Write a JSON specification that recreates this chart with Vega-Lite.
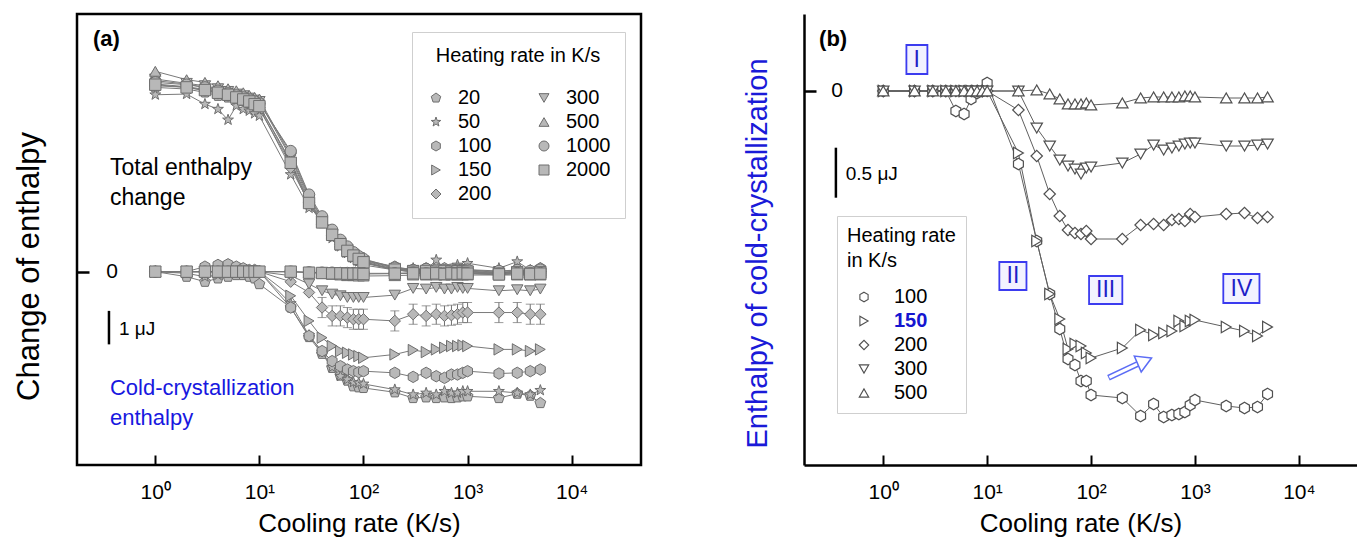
{
"$schema":"https://vega.github.io/schema/vega-lite/v6.json",
"background":"white",
"padding":{"left":12,"top":12,"right":0,"bottom":0},
"spacing":100,
"config":{"font":"Liberation Sans","view":{"stroke":"black","strokeWidth":2.5},"axis":{"grid":false,"labelColor":"black","titleColor":"black","titleFontWeight":"normal","tickColor":"black","labelFont":"Liberation Sans","titleFont":"Liberation Sans"},"legend":{"titleFontWeight":"normal","labelFont":"Liberation Sans","titleFont":"Liberation Sans"}},
"resolve":{"scale":{"shape":"independent"},"legend":{"shape":"independent"}},
"datasets":{
"at":[
{"s":"20","c":1,"v":5.5},{"s":"20","c":2,"v":5.45},{"s":"20","c":3,"v":5.35},{"s":"20","c":4,"v":5.25},{"s":"20","c":5,"v":5.2},{"s":"20","c":6,"v":5.15},{"s":"20","c":7,"v":5.1},{"s":"20","c":8,"v":5.0},{"s":"20","c":9,"v":4.95},{"s":"20","c":10,"v":4.85},{"s":"20","c":20,"v":3.2},{"s":"20","c":30,"v":2.0},{"s":"20","c":40,"v":1.45},{"s":"20","c":50,"v":1.15},{"s":"20","c":60,"v":0.85},{"s":"20","c":70,"v":0.65},{"s":"20","c":80,"v":0.5},{"s":"20","c":90,"v":0.4},{"s":"20","c":100,"v":0.3},{"s":"20","c":200,"v":0.05},{"s":"20","c":300,"v":0.0},{"s":"20","c":400,"v":-0.05},{"s":"20","c":500,"v":0.0},{"s":"20","c":600,"v":-0.05},{"s":"20","c":700,"v":0.0},{"s":"20","c":800,"v":-0.03},{"s":"20","c":900,"v":0.0},{"s":"20","c":1000,"v":-0.05},{"s":"20","c":2000,"v":-0.1},{"s":"20","c":3000,"v":-0.05},{"s":"20","c":4000,"v":-0.1},{"s":"20","c":5000,"v":-0.05},
{"s":"50","c":1,"v":5.28},{"s":"50","c":2,"v":5.3},{"s":"50","c":3,"v":5.0},{"s":"50","c":4,"v":4.85},{"s":"50","c":5,"v":4.53},{"s":"50","c":6,"v":4.95},{"s":"50","c":7,"v":4.85},{"s":"50","c":8,"v":4.8},{"s":"50","c":9,"v":4.72},{"s":"50","c":10,"v":4.65},{"s":"50","c":20,"v":2.9},{"s":"50","c":30,"v":1.9},{"s":"50","c":40,"v":1.6},{"s":"50","c":50,"v":1.0},{"s":"50","c":60,"v":0.75},{"s":"50","c":70,"v":0.55},{"s":"50","c":80,"v":0.4},{"s":"50","c":90,"v":0.3},{"s":"50","c":100,"v":0.2},{"s":"50","c":200,"v":0.05},{"s":"50","c":300,"v":0.1},{"s":"50","c":400,"v":0.05},{"s":"50","c":500,"v":0.35},{"s":"50","c":600,"v":0.1},{"s":"50","c":700,"v":0.05},{"s":"50","c":800,"v":0.2},{"s":"50","c":900,"v":0.05},{"s":"50","c":1000,"v":0.25},{"s":"50","c":2000,"v":0.1},{"s":"50","c":3000,"v":0.3},{"s":"50","c":4000,"v":0.05},{"s":"50","c":5000,"v":0.1},
{"s":"100","c":1,"v":5.7},{"s":"100","c":2,"v":5.6},{"s":"100","c":3,"v":5.5},{"s":"100","c":4,"v":5.42},{"s":"100","c":5,"v":5.35},{"s":"100","c":6,"v":5.28},{"s":"100","c":7,"v":5.22},{"s":"100","c":8,"v":5.16},{"s":"100","c":9,"v":5.1},{"s":"100","c":10,"v":5.05},{"s":"100","c":20,"v":3.55},{"s":"100","c":30,"v":2.25},{"s":"100","c":40,"v":1.6},{"s":"100","c":50,"v":1.2},{"s":"100","c":60,"v":0.92},{"s":"100","c":70,"v":0.72},{"s":"100","c":80,"v":0.56},{"s":"100","c":90,"v":0.45},{"s":"100","c":100,"v":0.35},{"s":"100","c":200,"v":0.15},{"s":"100","c":300,"v":0.05},{"s":"100","c":400,"v":0.1},{"s":"100","c":500,"v":0.05},{"s":"100","c":600,"v":0.1},{"s":"100","c":700,"v":0.05},{"s":"100","c":800,"v":0.08},{"s":"100","c":900,"v":0.05},{"s":"100","c":1000,"v":0.05},{"s":"100","c":2000,"v":0.0},{"s":"100","c":3000,"v":0.05},{"s":"100","c":4000,"v":0.0},{"s":"100","c":5000,"v":0.1},
{"s":"150","c":1,"v":5.6},{"s":"150","c":2,"v":5.52},{"s":"150","c":3,"v":5.44},{"s":"150","c":4,"v":5.36},{"s":"150","c":5,"v":5.3},{"s":"150","c":6,"v":5.22},{"s":"150","c":7,"v":5.16},{"s":"150","c":8,"v":5.1},{"s":"150","c":9,"v":5.02},{"s":"150","c":10,"v":4.95},{"s":"150","c":20,"v":3.3},{"s":"150","c":30,"v":2.1},{"s":"150","c":40,"v":1.5},{"s":"150","c":50,"v":1.1},{"s":"150","c":60,"v":0.8},{"s":"150","c":70,"v":0.6},{"s":"150","c":80,"v":0.46},{"s":"150","c":90,"v":0.36},{"s":"150","c":100,"v":0.26},{"s":"150","c":200,"v":0.05},{"s":"150","c":300,"v":0.0},{"s":"150","c":400,"v":-0.03},{"s":"150","c":500,"v":0.0},{"s":"150","c":600,"v":-0.05},{"s":"150","c":700,"v":-0.02},{"s":"150","c":800,"v":0.0},{"s":"150","c":900,"v":-0.04},{"s":"150","c":1000,"v":-0.02},{"s":"150","c":2000,"v":-0.08},{"s":"150","c":3000,"v":-0.05},{"s":"150","c":4000,"v":-0.08},{"s":"150","c":5000,"v":-0.05},
{"s":"200","c":1,"v":5.55},{"s":"200","c":2,"v":5.5},{"s":"200","c":3,"v":5.4},{"s":"200","c":4,"v":5.32},{"s":"200","c":5,"v":5.25},{"s":"200","c":6,"v":5.18},{"s":"200","c":7,"v":5.12},{"s":"200","c":8,"v":5.05},{"s":"200","c":9,"v":4.98},{"s":"200","c":10,"v":4.9},{"s":"200","c":20,"v":3.1},{"s":"200","c":30,"v":2.05},{"s":"200","c":40,"v":1.48},{"s":"200","c":50,"v":1.08},{"s":"200","c":60,"v":0.82},{"s":"200","c":70,"v":0.62},{"s":"200","c":80,"v":0.48},{"s":"200","c":90,"v":0.38},{"s":"200","c":100,"v":0.28},{"s":"200","c":200,"v":0.08},{"s":"200","c":300,"v":0.02},{"s":"200","c":400,"v":0.0},{"s":"200","c":500,"v":0.02},{"s":"200","c":600,"v":0.0},{"s":"200","c":700,"v":0.03},{"s":"200","c":800,"v":0.0},{"s":"200","c":900,"v":0.02},{"s":"200","c":1000,"v":0.0},{"s":"200","c":2000,"v":-0.05},{"s":"200","c":3000,"v":0.0},{"s":"200","c":4000,"v":-0.05},{"s":"200","c":5000,"v":0.0},
{"s":"300","c":1,"v":5.75},{"s":"300","c":2,"v":5.62},{"s":"300","c":3,"v":5.55},{"s":"300","c":4,"v":5.46},{"s":"300","c":5,"v":5.38},{"s":"300","c":6,"v":5.3},{"s":"300","c":7,"v":5.25},{"s":"300","c":8,"v":5.18},{"s":"300","c":9,"v":5.12},{"s":"300","c":10,"v":5.08},{"s":"300","c":20,"v":3.4},{"s":"300","c":30,"v":2.15},{"s":"300","c":40,"v":1.52},{"s":"300","c":50,"v":1.12},{"s":"300","c":60,"v":0.86},{"s":"300","c":70,"v":0.66},{"s":"300","c":80,"v":0.52},{"s":"300","c":90,"v":0.42},{"s":"300","c":100,"v":0.32},{"s":"300","c":200,"v":0.1},{"s":"300","c":300,"v":0.04},{"s":"300","c":400,"v":0.02},{"s":"300","c":500,"v":0.04},{"s":"300","c":600,"v":0.0},{"s":"300","c":700,"v":0.02},{"s":"300","c":800,"v":0.03},{"s":"300","c":900,"v":0.0},{"s":"300","c":1000,"v":0.02},{"s":"300","c":2000,"v":-0.04},{"s":"300","c":3000,"v":0.0},{"s":"300","c":4000,"v":-0.04},{"s":"300","c":5000,"v":0.02},
{"s":"500","c":1,"v":5.98},{"s":"500","c":2,"v":5.73},{"s":"500","c":3,"v":5.65},{"s":"500","c":4,"v":5.55},{"s":"500","c":5,"v":5.46},{"s":"500","c":6,"v":5.4},{"s":"500","c":7,"v":5.34},{"s":"500","c":8,"v":5.26},{"s":"500","c":9,"v":5.2},{"s":"500","c":10,"v":5.15},{"s":"500","c":20,"v":3.45},{"s":"500","c":30,"v":2.22},{"s":"500","c":40,"v":1.56},{"s":"500","c":50,"v":1.15},{"s":"500","c":60,"v":0.88},{"s":"500","c":70,"v":0.68},{"s":"500","c":80,"v":0.54},{"s":"500","c":90,"v":0.44},{"s":"500","c":100,"v":0.34},{"s":"500","c":200,"v":0.12},{"s":"500","c":300,"v":0.05},{"s":"500","c":400,"v":0.04},{"s":"500","c":500,"v":0.05},{"s":"500","c":600,"v":0.02},{"s":"500","c":700,"v":0.04},{"s":"500","c":800,"v":0.05},{"s":"500","c":900,"v":0.02},{"s":"500","c":1000,"v":0.04},{"s":"500","c":2000,"v":-0.02},{"s":"500","c":3000,"v":0.02},{"s":"500","c":4000,"v":-0.02},{"s":"500","c":5000,"v":0.03},
{"s":"1000","c":1,"v":5.65},{"s":"1000","c":2,"v":5.58},{"s":"1000","c":3,"v":5.5},{"s":"1000","c":4,"v":5.4},{"s":"1000","c":5,"v":5.32},{"s":"1000","c":6,"v":5.26},{"s":"1000","c":7,"v":5.2},{"s":"1000","c":8,"v":5.14},{"s":"1000","c":9,"v":5.08},{"s":"1000","c":10,"v":5.02},{"s":"1000","c":20,"v":3.6},{"s":"1000","c":30,"v":2.3},{"s":"1000","c":40,"v":1.65},{"s":"1000","c":50,"v":1.25},{"s":"1000","c":60,"v":0.95},{"s":"1000","c":70,"v":0.75},{"s":"1000","c":80,"v":0.58},{"s":"1000","c":90,"v":0.46},{"s":"1000","c":100,"v":0.38},{"s":"1000","c":200,"v":0.12},{"s":"1000","c":300,"v":0.05},{"s":"1000","c":400,"v":0.08},{"s":"1000","c":500,"v":0.06},{"s":"1000","c":600,"v":0.04},{"s":"1000","c":700,"v":0.06},{"s":"1000","c":800,"v":0.04},{"s":"1000","c":900,"v":0.05},{"s":"1000","c":1000,"v":0.06},{"s":"1000","c":2000,"v":0.02},{"s":"1000","c":3000,"v":0.05},{"s":"1000","c":4000,"v":0.02},{"s":"1000","c":5000,"v":0.06},
{"s":"2000","c":1,"v":5.58},{"s":"2000","c":2,"v":5.5},{"s":"2000","c":3,"v":5.42},{"s":"2000","c":4,"v":5.34},{"s":"2000","c":5,"v":5.28},{"s":"2000","c":6,"v":5.2},{"s":"2000","c":7,"v":5.14},{"s":"2000","c":8,"v":5.08},{"s":"2000","c":9,"v":5.0},{"s":"2000","c":10,"v":4.94},{"s":"2000","c":20,"v":3.25},{"s":"2000","c":30,"v":2.05},{"s":"2000","c":40,"v":1.47},{"s":"2000","c":50,"v":1.1},{"s":"2000","c":60,"v":0.82},{"s":"2000","c":70,"v":0.62},{"s":"2000","c":80,"v":0.48},{"s":"2000","c":90,"v":0.38},{"s":"2000","c":100,"v":0.28},{"s":"2000","c":200,"v":0.06},{"s":"2000","c":300,"v":0.0},{"s":"2000","c":400,"v":0.02},{"s":"2000","c":500,"v":0.0},{"s":"2000","c":600,"v":0.02},{"s":"2000","c":700,"v":0.0},{"s":"2000","c":800,"v":0.01},{"s":"2000","c":900,"v":0.0},{"s":"2000","c":1000,"v":0.0},{"s":"2000","c":2000,"v":-0.06},{"s":"2000","c":3000,"v":-0.02},{"s":"2000","c":4000,"v":-0.06},{"s":"2000","c":5000,"v":-0.02}
],
"ac":[
{"s":"20","c":1,"v":0.0},{"s":"20","c":2,"v":-0.15},{"s":"20","c":3,"v":-0.3},{"s":"20","c":4,"v":-0.2},{"s":"20","c":5,"v":-0.15},{"s":"20","c":6,"v":-0.1},{"s":"20","c":7,"v":-0.1},{"s":"20","c":8,"v":-0.15},{"s":"20","c":9,"v":-0.2},{"s":"20","c":10,"v":-0.37},{"s":"20","c":20,"v":-1.07},{"s":"20","c":30,"v":-1.95},{"s":"20","c":40,"v":-2.45},{"s":"20","c":50,"v":-2.87},{"s":"20","c":60,"v":-3.1},{"s":"20","c":70,"v":-3.25},{"s":"20","c":80,"v":-3.42},{"s":"20","c":90,"v":-3.45},{"s":"20","c":100,"v":-3.47},{"s":"20","c":200,"v":-3.6},{"s":"20","c":300,"v":-3.77},{"s":"20","c":400,"v":-3.75},{"s":"20","c":500,"v":-3.77},{"s":"20","c":600,"v":-3.75},{"s":"20","c":700,"v":-3.77},{"s":"20","c":800,"v":-3.75},{"s":"20","c":900,"v":-3.72},{"s":"20","c":1000,"v":-3.72},{"s":"20","c":2000,"v":-3.77},{"s":"20","c":3000,"v":-3.64},{"s":"20","c":4000,"v":-3.7},{"s":"20","c":5000,"v":-3.92},
{"s":"50","c":1,"v":0.0},{"s":"50","c":2,"v":-0.05},{"s":"50","c":3,"v":-0.15},{"s":"50","c":4,"v":-0.1},{"s":"50","c":5,"v":-0.05},{"s":"50","c":6,"v":0.0},{"s":"50","c":7,"v":0.0},{"s":"50","c":8,"v":0.0},{"s":"50","c":9,"v":0.0},{"s":"50","c":10,"v":0.0},{"s":"50","c":20,"v":-0.95},{"s":"50","c":30,"v":-1.9},{"s":"50","c":40,"v":-2.4},{"s":"50","c":50,"v":-2.85},{"s":"50","c":60,"v":-3.12},{"s":"50","c":70,"v":-3.22},{"s":"50","c":80,"v":-3.3},{"s":"50","c":90,"v":-3.32},{"s":"50","c":100,"v":-3.35},{"s":"50","c":200,"v":-3.52},{"s":"50","c":300,"v":-3.67},{"s":"50","c":400,"v":-3.62},{"s":"50","c":500,"v":-3.67},{"s":"50","c":600,"v":-3.57},{"s":"50","c":700,"v":-3.62},{"s":"50","c":800,"v":-3.62},{"s":"50","c":900,"v":-3.57},{"s":"50","c":1000,"v":-3.57},{"s":"50","c":2000,"v":-3.57},{"s":"50","c":3000,"v":-3.62},{"s":"50","c":4000,"v":-3.67},{"s":"50","c":5000,"v":-3.54},
{"s":"100","c":1,"v":0.0},{"s":"100","c":2,"v":0.0},{"s":"100","c":3,"v":0.15},{"s":"100","c":4,"v":0.2},{"s":"100","c":5,"v":0.22},{"s":"100","c":6,"v":0.15},{"s":"100","c":7,"v":0.1},{"s":"100","c":8,"v":0.05},{"s":"100","c":9,"v":0.05},{"s":"100","c":10,"v":0.0},{"s":"100","c":20,"v":-1.07},{"s":"100","c":30,"v":-1.92},{"s":"100","c":40,"v":-2.37},{"s":"100","c":50,"v":-2.67},{"s":"100","c":60,"v":-2.82},{"s":"100","c":70,"v":-2.92},{"s":"100","c":80,"v":-2.97},{"s":"100","c":90,"v":-3.0},{"s":"100","c":100,"v":-2.97},{"s":"100","c":200,"v":-3.02},{"s":"100","c":300,"v":-3.14},{"s":"100","c":400,"v":-3.02},{"s":"100","c":500,"v":-3.12},{"s":"100","c":600,"v":-3.17},{"s":"100","c":700,"v":-3.07},{"s":"100","c":800,"v":-3.07},{"s":"100","c":900,"v":-3.02},{"s":"100","c":1000,"v":-2.97},{"s":"100","c":2000,"v":-3.04},{"s":"100","c":3000,"v":-3.02},{"s":"100","c":4000,"v":-2.97},{"s":"100","c":5000,"v":-2.92},
{"s":"150","c":1,"v":0},{"s":"150","c":2,"v":0},{"s":"150","c":3,"v":0},{"s":"150","c":4,"v":0},{"s":"150","c":5,"v":0},{"s":"150","c":6,"v":0},{"s":"150","c":7,"v":0},{"s":"150","c":8,"v":0},{"s":"150","c":9,"v":0},{"s":"150","c":10,"v":0},{"s":"150","c":20,"v":-0.72},{"s":"150","c":30,"v":-1.47},{"s":"150","c":40,"v":-1.97},{"s":"150","c":50,"v":-2.22},{"s":"150","c":60,"v":-2.37},{"s":"150","c":70,"v":-2.42},{"s":"150","c":80,"v":-2.47},{"s":"150","c":90,"v":-2.52},{"s":"150","c":100,"v":-2.57},{"s":"150","c":200,"v":-2.47},{"s":"150","c":300,"v":-2.34},{"s":"150","c":400,"v":-2.4},{"s":"150","c":500,"v":-2.32},{"s":"150","c":600,"v":-2.27},{"s":"150","c":700,"v":-2.22},{"s":"150","c":800,"v":-2.22},{"s":"150","c":900,"v":-2.2},{"s":"150","c":1000,"v":-2.22},{"s":"150","c":2000,"v":-2.32},{"s":"150","c":3000,"v":-2.32},{"s":"150","c":4000,"v":-2.37},{"s":"150","c":5000,"v":-2.32},
{"s":"200","c":1,"v":0},{"s":"200","c":2,"v":0},{"s":"200","c":3,"v":0},{"s":"200","c":4,"v":0},{"s":"200","c":5,"v":0},{"s":"200","c":6,"v":0},{"s":"200","c":7,"v":0},{"s":"200","c":8,"v":0},{"s":"200","c":9,"v":0},{"s":"200","c":10,"v":0},{"s":"200","c":20,"v":-0.3},{"s":"200","c":30,"v":-0.62},{"s":"200","c":40,"v":-1.07,"e":0.3},{"s":"200","c":50,"v":-1.32,"e":0.3},{"s":"200","c":60,"v":-1.32,"e":0.3},{"s":"200","c":70,"v":-1.37,"e":0.3},{"s":"200","c":80,"v":-1.42,"e":0.3},{"s":"200","c":90,"v":-1.42,"e":0.3},{"s":"200","c":100,"v":-1.42,"e":0.3},{"s":"200","c":200,"v":-1.47,"e":0.3},{"s":"200","c":300,"v":-1.27,"e":0.3},{"s":"200","c":400,"v":-1.32,"e":0.3},{"s":"200","c":500,"v":-1.27,"e":0.3},{"s":"200","c":600,"v":-1.32,"e":0.3},{"s":"200","c":700,"v":-1.3,"e":0.3},{"s":"200","c":800,"v":-1.27,"e":0.3},{"s":"200","c":900,"v":-1.22,"e":0.3},{"s":"200","c":1000,"v":-1.22,"e":0.3},{"s":"200","c":2000,"v":-1.22,"e":0.3},{"s":"200","c":3000,"v":-1.22,"e":0.3},{"s":"200","c":4000,"v":-1.27,"e":0.3},{"s":"200","c":5000,"v":-1.27,"e":0.3},
{"s":"300","c":1,"v":0},{"s":"300","c":2,"v":0},{"s":"300","c":3,"v":0},{"s":"300","c":4,"v":0},{"s":"300","c":5,"v":0},{"s":"300","c":6,"v":0},{"s":"300","c":7,"v":0},{"s":"300","c":8,"v":0},{"s":"300","c":9,"v":0},{"s":"300","c":10,"v":0},{"s":"300","c":20,"v":-0.12},{"s":"300","c":30,"v":-0.37},{"s":"300","c":40,"v":-0.57},{"s":"300","c":50,"v":-0.67},{"s":"300","c":60,"v":-0.72},{"s":"300","c":70,"v":-0.77},{"s":"300","c":80,"v":-0.77},{"s":"300","c":90,"v":-0.77},{"s":"300","c":100,"v":-0.77},{"s":"300","c":200,"v":-0.7},{"s":"300","c":300,"v":-0.5},{"s":"300","c":400,"v":-0.52},{"s":"300","c":500,"v":-0.47},{"s":"300","c":600,"v":-0.52},{"s":"300","c":700,"v":-0.52},{"s":"300","c":800,"v":-0.47},{"s":"300","c":900,"v":-0.5},{"s":"300","c":1000,"v":-0.5},{"s":"300","c":2000,"v":-0.57},{"s":"300","c":3000,"v":-0.54},{"s":"300","c":4000,"v":-0.57},{"s":"300","c":5000,"v":-0.52},
{"s":"500","c":1,"v":0},{"s":"500","c":2,"v":0},{"s":"500","c":3,"v":0},{"s":"500","c":4,"v":0},{"s":"500","c":5,"v":0},{"s":"500","c":6,"v":0},{"s":"500","c":7,"v":0},{"s":"500","c":8,"v":0},{"s":"500","c":9,"v":0},{"s":"500","c":10,"v":0},{"s":"500","c":20,"v":0.0},{"s":"500","c":30,"v":-0.02},{"s":"500","c":40,"v":-0.05},{"s":"500","c":50,"v":-0.08},{"s":"500","c":60,"v":-0.1},{"s":"500","c":70,"v":-0.12},{"s":"500","c":80,"v":-0.12},{"s":"500","c":90,"v":-0.13},{"s":"500","c":100,"v":-0.13},{"s":"500","c":200,"v":-0.12},{"s":"500","c":300,"v":-0.1},{"s":"500","c":400,"v":-0.1},{"s":"500","c":500,"v":-0.1},{"s":"500","c":600,"v":-0.1},{"s":"500","c":700,"v":-0.1},{"s":"500","c":800,"v":-0.1},{"s":"500","c":900,"v":-0.1},{"s":"500","c":1000,"v":-0.1},{"s":"500","c":2000,"v":-0.1},{"s":"500","c":3000,"v":-0.1},{"s":"500","c":4000,"v":-0.1},{"s":"500","c":5000,"v":-0.1},
{"s":"1000","c":1,"v":0},{"s":"1000","c":2,"v":0},{"s":"1000","c":3,"v":0},{"s":"1000","c":4,"v":0},{"s":"1000","c":5,"v":0},{"s":"1000","c":6,"v":0},{"s":"1000","c":7,"v":0},{"s":"1000","c":8,"v":0},{"s":"1000","c":9,"v":0},{"s":"1000","c":10,"v":0},{"s":"1000","c":20,"v":0.0},{"s":"1000","c":30,"v":-0.02},{"s":"1000","c":40,"v":-0.03},{"s":"1000","c":50,"v":-0.03},{"s":"1000","c":60,"v":-0.04},{"s":"1000","c":70,"v":-0.04},{"s":"1000","c":80,"v":-0.04},{"s":"1000","c":90,"v":-0.05},{"s":"1000","c":100,"v":-0.05},{"s":"1000","c":200,"v":-0.05},{"s":"1000","c":300,"v":-0.03},{"s":"1000","c":400,"v":-0.05},{"s":"1000","c":500,"v":-0.04},{"s":"1000","c":600,"v":-0.05},{"s":"1000","c":700,"v":-0.03},{"s":"1000","c":800,"v":-0.05},{"s":"1000","c":900,"v":-0.04},{"s":"1000","c":1000,"v":-0.05},{"s":"1000","c":2000,"v":-0.06},{"s":"1000","c":3000,"v":-0.04},{"s":"1000","c":4000,"v":-0.05},{"s":"1000","c":5000,"v":-0.04},
{"s":"2000","c":1,"v":0},{"s":"2000","c":2,"v":0},{"s":"2000","c":3,"v":0},{"s":"2000","c":4,"v":0},{"s":"2000","c":5,"v":0},{"s":"2000","c":6,"v":0},{"s":"2000","c":7,"v":0},{"s":"2000","c":8,"v":0},{"s":"2000","c":9,"v":0},{"s":"2000","c":10,"v":0},{"s":"2000","c":20,"v":0.0},{"s":"2000","c":30,"v":-0.03},{"s":"2000","c":40,"v":-0.04},{"s":"2000","c":50,"v":-0.05},{"s":"2000","c":60,"v":-0.05},{"s":"2000","c":70,"v":-0.06},{"s":"2000","c":80,"v":-0.06},{"s":"2000","c":90,"v":-0.06},{"s":"2000","c":100,"v":-0.07},{"s":"2000","c":200,"v":-0.06},{"s":"2000","c":300,"v":-0.05},{"s":"2000","c":400,"v":-0.06},{"s":"2000","c":500,"v":-0.05},{"s":"2000","c":600,"v":-0.07},{"s":"2000","c":700,"v":-0.05},{"s":"2000","c":800,"v":-0.06},{"s":"2000","c":900,"v":-0.05},{"s":"2000","c":1000,"v":-0.06},{"s":"2000","c":2000,"v":-0.08},{"s":"2000","c":3000,"v":-0.06},{"s":"2000","c":4000,"v":-0.07},{"s":"2000","c":5000,"v":-0.06}
],
"b":[
{"s":"100","c":1,"v":0},{"s":"100","c":2,"v":0},{"s":"100","c":3,"v":0},{"s":"100","c":4,"v":0},{"s":"100","c":5,"v":-0.2},{"s":"100","c":6,"v":-0.23},{"s":"100","c":7,"v":-0.08},{"s":"100","c":8,"v":-0.02},{"s":"100","c":9,"v":0},{"s":"100","c":10,"v":0.08},{"s":"100","c":20,"v":-0.73},{"s":"100","c":30,"v":-1.5},{"s":"100","c":40,"v":-2.03},{"s":"100","c":50,"v":-2.38},{"s":"100","c":60,"v":-2.68},{"s":"100","c":70,"v":-2.74},{"s":"100","c":80,"v":-2.9},{"s":"100","c":90,"v":-2.9},{"s":"100","c":100,"v":-3.04},{"s":"100","c":200,"v":-3.07},{"s":"100","c":300,"v":-3.25},{"s":"100","c":400,"v":-3.13},{"s":"100","c":500,"v":-3.26},{"s":"100","c":600,"v":-3.24},{"s":"100","c":700,"v":-3.23},{"s":"100","c":800,"v":-3.21},{"s":"100","c":900,"v":-3.14},{"s":"100","c":1000,"v":-3.09},{"s":"100","c":2000,"v":-3.15},{"s":"100","c":3000,"v":-3.17},{"s":"100","c":4000,"v":-3.16},{"s":"100","c":5000,"v":-3.03},
{"s":"150","c":1,"v":0},{"s":"150","c":2,"v":0},{"s":"150","c":3,"v":0},{"s":"150","c":4,"v":0},{"s":"150","c":5,"v":0},{"s":"150","c":6,"v":0},{"s":"150","c":7,"v":0},{"s":"150","c":8,"v":0},{"s":"150","c":9,"v":0},{"s":"150","c":10,"v":0},{"s":"150","c":20,"v":-0.62},{"s":"150","c":30,"v":-1.5},{"s":"150","c":40,"v":-2.03},{"s":"150","c":50,"v":-2.28},{"s":"150","c":60,"v":-2.58},{"s":"150","c":70,"v":-2.53},{"s":"150","c":80,"v":-2.55},{"s":"150","c":90,"v":-2.62},{"s":"150","c":100,"v":-2.67},{"s":"150","c":200,"v":-2.57},{"s":"150","c":300,"v":-2.39},{"s":"150","c":400,"v":-2.44},{"s":"150","c":500,"v":-2.42},{"s":"150","c":600,"v":-2.4},{"s":"150","c":700,"v":-2.3},{"s":"150","c":800,"v":-2.35},{"s":"150","c":900,"v":-2.3},{"s":"150","c":1000,"v":-2.29},{"s":"150","c":2000,"v":-2.36},{"s":"150","c":3000,"v":-2.4},{"s":"150","c":4000,"v":-2.45},{"s":"150","c":5000,"v":-2.36},
{"s":"200","c":1,"v":0},{"s":"200","c":2,"v":0},{"s":"200","c":3,"v":0},{"s":"200","c":4,"v":0},{"s":"200","c":5,"v":0},{"s":"200","c":6,"v":0},{"s":"200","c":7,"v":0},{"s":"200","c":8,"v":0},{"s":"200","c":9,"v":0},{"s":"200","c":10,"v":0},{"s":"200","c":20,"v":-0.19},{"s":"200","c":30,"v":-0.65},{"s":"200","c":40,"v":-1.03},{"s":"200","c":50,"v":-1.25},{"s":"200","c":60,"v":-1.39},{"s":"200","c":70,"v":-1.42},{"s":"200","c":80,"v":-1.43},{"s":"200","c":90,"v":-1.4},{"s":"200","c":100,"v":-1.48},{"s":"200","c":200,"v":-1.48},{"s":"200","c":300,"v":-1.34},{"s":"200","c":400,"v":-1.33},{"s":"200","c":500,"v":-1.34},{"s":"200","c":600,"v":-1.29},{"s":"200","c":700,"v":-1.28},{"s":"200","c":800,"v":-1.3},{"s":"200","c":900,"v":-1.23},{"s":"200","c":1000,"v":-1.26},{"s":"200","c":2000,"v":-1.23},{"s":"200","c":3000,"v":-1.22},{"s":"200","c":4000,"v":-1.27},{"s":"200","c":5000,"v":-1.26},
{"s":"300","c":1,"v":0},{"s":"300","c":2,"v":0},{"s":"300","c":3,"v":0},{"s":"300","c":4,"v":0},{"s":"300","c":5,"v":0},{"s":"300","c":6,"v":0},{"s":"300","c":7,"v":0},{"s":"300","c":8,"v":0},{"s":"300","c":9,"v":0},{"s":"300","c":10,"v":0},{"s":"300","c":20,"v":0},{"s":"300","c":30,"v":-0.37},{"s":"300","c":40,"v":-0.55},{"s":"300","c":50,"v":-0.69},{"s":"300","c":60,"v":-0.75},{"s":"300","c":70,"v":-0.78},{"s":"300","c":80,"v":-0.83},{"s":"300","c":90,"v":-0.77},{"s":"300","c":100,"v":-0.76},{"s":"300","c":200,"v":-0.72},{"s":"300","c":300,"v":-0.63},{"s":"300","c":400,"v":-0.54},{"s":"300","c":500,"v":-0.59},{"s":"300","c":600,"v":-0.57},{"s":"300","c":700,"v":-0.55},{"s":"300","c":800,"v":-0.53},{"s":"300","c":900,"v":-0.52},{"s":"300","c":1000,"v":-0.52},{"s":"300","c":2000,"v":-0.55},{"s":"300","c":3000,"v":-0.55},{"s":"300","c":4000,"v":-0.54},{"s":"300","c":5000,"v":-0.53},
{"s":"500","c":1,"v":0},{"s":"500","c":2,"v":0},{"s":"500","c":3,"v":0},{"s":"500","c":4,"v":0},{"s":"500","c":5,"v":0},{"s":"500","c":6,"v":0},{"s":"500","c":7,"v":0},{"s":"500","c":8,"v":0},{"s":"500","c":9,"v":0},{"s":"500","c":10,"v":0},{"s":"500","c":20,"v":0},{"s":"500","c":30,"v":0.01},{"s":"500","c":40,"v":-0.03},{"s":"500","c":50,"v":-0.08},{"s":"500","c":60,"v":-0.13},{"s":"500","c":70,"v":-0.13},{"s":"500","c":80,"v":-0.13},{"s":"500","c":90,"v":-0.12},{"s":"500","c":100,"v":-0.14},{"s":"500","c":200,"v":-0.12},{"s":"500","c":300,"v":-0.07},{"s":"500","c":400,"v":-0.06},{"s":"500","c":500,"v":-0.06},{"s":"500","c":600,"v":-0.06},{"s":"500","c":700,"v":-0.06},{"s":"500","c":800,"v":-0.05},{"s":"500","c":900,"v":-0.05},{"s":"500","c":1000,"v":-0.06},{"s":"500","c":2000,"v":-0.07},{"s":"500","c":3000,"v":-0.07},{"s":"500","c":4000,"v":-0.07},{"s":"500","c":5000,"v":-0.06}
],
"rom":[
{"t":"I","c1":1.67,"c2":2.66,"v1":0.46,"v2":0.17,"c":2.1,"v":0.315},
{"t":"II","c1":13.1,"c2":23.9,"v1":-1.71,"v2":-1.99,"c":17.7,"v":-1.85},
{"t":"III","c1":95.7,"c2":200,"v1":-1.85,"v2":-2.13,"c":138,"v":-1.99},
{"t":"IV","c1":1875,"c2":4178,"v1":-1.83,"v2":-2.12,"c":2797,"v":-1.975}
]
},
"hconcat":[
{
"width":564,"height":451,
"layer":[
{"mark":{"type":"rule","color":"#c8c8c8","strokeWidth":1.5},"encoding":{"y":{"datum":0,"type":"quantitative"}}},
{"data":{"name":"at"},"mark":{"type":"line","color":"#7a7a7a","strokeWidth":1},
 "encoding":{
  "x":{"field":"c","type":"quantitative","scale":{"type":"log","domain":[0.177,46350],"nice":false},
   "axis":{"values":[1,10,100,1000,10000],"labelExpr":"datum.value==1?'10⁰':datum.value==10?'10¹':datum.value==100?'10²':datum.value==1000?'10³':'10⁴'","tickSize":-10,"tickWidth":2,"domain":false,"labelFontSize":21,"labelPadding":26,"labelFlush":false,"title":"Cooling rate (K/s)","titleFontSize":26,"titlePadding":8}},
  "y":{"field":"v","type":"quantitative","scale":{"domain":[-5.77,7.69],"nice":false,"zero":false},
   "axis":{"values":[0],"labels":false,"tickSize":-12,"tickWidth":2.5,"domain":false,"title":"Change of enthalpy","titleFontSize":31,"titlePadding":30,"titleY":252}},
  "detail":{"field":"s"}}},
{"data":{"name":"ac"},"mark":{"type":"line","color":"#7a7a7a","strokeWidth":1},
 "encoding":{"x":{"field":"c","type":"quantitative"},"y":{"field":"v","type":"quantitative"},"detail":{"field":"s"}}},
{"data":{"name":"ac"},"transform":[{"filter":"isValid(datum.e)"}],"mark":{"type":"errorbar","color":"#707070","thickness":1,"ticks":{"size":9,"thickness":1,"color":"#707070"}},
 "encoding":{"x":{"field":"c","type":"quantitative"},"y":{"field":"v","type":"quantitative","title":"Change of enthalpy"},"yError":{"field":"e"}}},
{"data":{"name":"at"},"mark":{"type":"point","filled":false,"color":"#6e6e6e","fill":"#b8b8b8","stroke":"#6e6e6e","strokeWidth":1,"opacity":1,"fillOpacity":1,"size":130},
 "encoding":{"x":{"field":"c","type":"quantitative"},"y":{"field":"v","type":"quantitative"},
  "shape":{"field":"s","type":"nominal",
   "scale":{"domain":["20","50","100","150","200","300","500","1000","2000"],
    "range":["M0,-1L0.951,-0.309L0.588,0.809L-0.588,0.809L-0.951,-0.309Z","M0,-1L0.235,-0.324L0.951,-0.309L0.38,0.124L0.588,0.809L0,0.4L-0.588,0.809L-0.38,0.124L-0.951,-0.309L-0.235,-0.324Z","M0,-1L0.866,-0.5L0.866,0.5L0,1L-0.866,0.5L-0.866,-0.5Z","triangle-right","diamond","triangle-down","triangle-up","circle","square"]},
   "legend":{"title":"Heating rate in K/s","orient":"none","legendX":335,"legendY":18,"columns":2,"padding":14,"strokeColor":"#cfcfcf","fillColor":"white","titleFontSize":20,"titleColor":"black","titlePadding":22,"titleAnchor":"middle","labelFontSize":20,"labelColor":"black","labelOffset":12,"symbolSize":100,"symbolStrokeWidth":1,"rowPadding":4,"columnPadding":42,"symbolFillColor":"#b8b8b8","symbolStrokeColor":"#6e6e6e",
    "encoding":{"symbols":{"fill":{"value":"#b8b8b8"},"stroke":{"value":"#6e6e6e"},"strokeWidth":{"value":1},"opacity":{"value":1},
     "shape":{"value":{"expr":"datum.value=='20'?'M-2.6,0L-0.85,0M0.85,0L2.6,0M0,-1L0.951,-0.309L0.588,0.809L-0.588,0.809L-0.951,-0.309Z':datum.value=='50'?'M-2.6,0L-0.6,0M0.6,0L2.6,0M0,-1L0.235,-0.324L0.951,-0.309L0.38,0.124L0.588,0.809L0,0.4L-0.588,0.809L-0.38,0.124L-0.951,-0.309L-0.235,-0.324Z':datum.value=='100'?'M-2.6,0L-0.866,0M0.866,0L2.6,0M0,-1L0.866,-0.5L0.866,0.5L0,1L-0.866,0.5L-0.866,-0.5Z':datum.value=='150'?'M-2.6,0L-0.866,0M0.866,0L2.6,0M0.866,0L-0.866,-1L-0.866,1Z':datum.value=='200'?'M-2.6,0L-1,0M1,0L2.6,0M-1,0L0,-1L1,0L0,1Z':datum.value=='300'?'M-2.6,0L-0.5,0M0.5,0L2.6,0M0,0.866L1,-0.866L-1,-0.866Z':datum.value=='500'?'M-2.6,0L-0.5,0M0.5,0L2.6,0M0,-0.866L1,0.866L-1,0.866Z':datum.value=='1000'?'M-2.6,0L-0.9,0M0.9,0L2.6,0M0.9,0A0.9,0.9 0 1,1 -0.9,0A0.9,0.9 0 1,1 0.9,0Z':'M-2.6,0L-0.8,0M0.8,0L2.6,0M-0.8,-0.8L0.8,-0.8L0.8,0.8L-0.8,0.8Z'"}}}}}}}},
{"data":{"name":"ac"},"mark":{"type":"point","filled":false,"color":"#6e6e6e","fill":"#b8b8b8","stroke":"#6e6e6e","strokeWidth":1,"opacity":1,"fillOpacity":1,"size":130},
 "encoding":{"x":{"field":"c","type":"quantitative"},"y":{"field":"v","type":"quantitative"},"shape":{"field":"s","type":"nominal"}}},
{"data":{"values":[{"c":0.384,"v":0}]},"mark":{"type":"point","shape":"square","filled":true,"color":"white","opacity":1,"size":700},
 "encoding":{"x":{"field":"c","type":"quantitative"},"y":{"field":"v","type":"quantitative"}}},
{"data":{"values":[{"t":"0","c":0.384,"v":0}]},"mark":{"type":"text","fontSize":21,"align":"center","baseline":"middle","color":"black"},
 "encoding":{"x":{"field":"c","type":"quantitative"},"y":{"field":"v","type":"quantitative"},"text":{"field":"t"}}},
{"data":{"values":[{"t":"(a)","c":0.252,"v":6.93}]},"mark":{"type":"text","fontSize":22,"fontWeight":"bold","align":"left","baseline":"middle","color":"black"},
 "encoding":{"x":{"field":"c","type":"quantitative"},"y":{"field":"v","type":"quantitative"},"text":{"field":"t"}}},
{"data":{"values":[{"t":"Total enthalpy\nchange","c":0.367,"v":3.08}]},"mark":{"type":"text","fontSize":23,"lineBreak":"\n","lineHeight":29.5,"align":"left","baseline":"middle","color":"black"},
 "encoding":{"x":{"field":"c","type":"quantitative"},"y":{"field":"v","type":"quantitative"},"text":{"field":"t"}}},
{"data":{"values":[{"t":"Cold-crystallization\nenthalpy","c":0.367,"v":-3.47}]},"mark":{"type":"text","fontSize":22,"lineBreak":"\n","lineHeight":30,"align":"left","baseline":"middle","color":"#1818e0"},
 "encoding":{"x":{"field":"c","type":"quantitative"},"y":{"field":"v","type":"quantitative"},"text":{"field":"t"}}},
{"data":{"values":[{"c":0.359,"v":-1.17,"v2":-2.17}]},"mark":{"type":"rule","color":"black","strokeWidth":2.5},
 "encoding":{"x":{"field":"c","type":"quantitative"},"y":{"field":"v","type":"quantitative"},"y2":{"field":"v2"}}},
{"data":{"values":[{"t":"1 μJ","c":0.448,"v":-1.7}]},"mark":{"type":"text","fontSize":19,"align":"left","baseline":"middle","color":"black"},
 "encoding":{"x":{"field":"c","type":"quantitative"},"y":{"field":"v","type":"quantitative"},"text":{"field":"t"}}}
]
},
{
"width":553,"height":451,
"view":{"stroke":null},
"layer":[
{"mark":{"type":"rule","color":"#c8c8c8","strokeWidth":1.5},"encoding":{"y":{"datum":0,"type":"quantitative"}}},
{"mark":{"type":"rule","color":"black","strokeWidth":2.5},"encoding":{"y":{"datum":0.77,"type":"quantitative"}}},
{"data":{"name":"b"},"mark":{"type":"line","color":"#606060","strokeWidth":1},
 "encoding":{
  "x":{"field":"c","type":"quantitative","scale":{"type":"log","domain":[0.1726,36300],"nice":false},
   "axis":{"values":[1,10,100,1000,10000],"labelExpr":"datum.value==1?'10⁰':datum.value==10?'10¹':datum.value==100?'10²':datum.value==1000?'10³':'10⁴'","tickSize":-10,"tickWidth":2,"domain":true,"domainColor":"black","domainWidth":2.5,"labelFontSize":21,"labelPadding":26,"labelFlush":false,"title":"Cooling rate (K/s)","titleFontSize":26,"titlePadding":8}},
  "y":{"field":"v","type":"quantitative","scale":{"domain":[-3.74,0.77],"nice":false,"zero":false},
   "axis":{"values":[0],"labels":false,"tickSize":-12,"tickWidth":2.5,"domain":true,"domainColor":"black","domainWidth":2.5,"title":"Enthalpy of cold-crystallization","titleColor":"#1a1ad8","titleFontSize":29,"titlePadding":30,"titleY":239}},
  "detail":{"field":"s"}}},
{"data":{"name":"b"},"mark":{"type":"point","filled":false,"color":"#505050","fill":"white","stroke":"#505050","strokeWidth":1.2,"opacity":1,"fillOpacity":1,"size":130},
 "encoding":{"x":{"field":"c","type":"quantitative"},"y":{"field":"v","type":"quantitative"},
  "shape":{"field":"s","type":"nominal",
   "scale":{"domain":["100","150","200","300","500"],"range":["M0,-1L0.866,-0.5L0.866,0.5L0,1L-0.866,0.5L-0.866,-0.5Z","triangle-right","diamond","triangle-down","triangle-up"]},
   "legend":{"title":["Heating rate","in K/s"],"orient":"none","legendX":33,"legendY":202,"padding":10,"strokeColor":"#cfcfcf","fillColor":"white","titleFontSize":20,"titleColor":"black","titleLineHeight":25,"titlePadding":16,"titleAnchor":"start","labelFontSize":20,"labelColor":{"expr":"datum.label == '150' ? '#1515d0' : 'black'"},"labelFontWeight":{"expr":"datum.label == '150' ? 'bold' : 'normal'"},"labelOffset":20,"symbolOffset":7,"symbolSize":90,"symbolStrokeWidth":1.2,"rowPadding":4,"symbolFillColor":"white","symbolStrokeColor":"#505050",
    "encoding":{"symbols":{"fill":{"value":"white"},"stroke":{"value":"#505050"},"strokeWidth":{"value":1.1},"opacity":{"value":1},
     "shape":{"value":{"expr":"datum.value=='100'?'M-3.1,0L-0.9,0M0.9,0L3.1,0M0.9,0A0.9,0.9 0 1,1 -0.9,0A0.9,0.9 0 1,1 0.9,0Z':datum.value=='150'?'M-3.1,0L-0.866,0M0.866,0L3.1,0M0.866,0L-0.866,-1L-0.866,1Z':datum.value=='200'?'M-3.1,0L-1,0M1,0L3.1,0M-1,0L0,-1L1,0L0,1Z':datum.value=='300'?'M-3.1,0L-0.5,0M0.5,0L3.1,0M0,0.866L1,-0.866L-1,-0.866Z':'M-3.1,0L-0.5,0M0.5,0L3.1,0M0,-0.866L1,0.866L-1,0.866Z'"}}}}}}}},
{"data":{"values":[{"c":0.359,"v":0}]},"mark":{"type":"point","shape":"square","filled":true,"color":"white","opacity":1,"size":700},
 "encoding":{"x":{"field":"c","type":"quantitative"},"y":{"field":"v","type":"quantitative"}}},
{"data":{"values":[{"t":"0","c":0.359,"v":0}]},"mark":{"type":"text","fontSize":21,"align":"center","baseline":"middle","color":"black"},
 "encoding":{"x":{"field":"c","type":"quantitative"},"y":{"field":"v","type":"quantitative"},"text":{"field":"t"}}},
{"data":{"values":[{"t":"(b)","c":0.241,"v":0.52}]},"mark":{"type":"text","fontSize":22,"fontWeight":"bold","align":"left","baseline":"middle","color":"black"},
 "encoding":{"x":{"field":"c","type":"quantitative"},"y":{"field":"v","type":"quantitative"},"text":{"field":"t"}}},
{"data":{"values":[{"c":0.35,"v":-0.567,"v2":-1.067}]},"mark":{"type":"rule","color":"black","strokeWidth":2.5},
 "encoding":{"x":{"field":"c","type":"quantitative"},"y":{"field":"v","type":"quantitative"},"y2":{"field":"v2"}}},
{"data":{"values":[{"t":"0.5 μJ","c":0.435,"v":-0.83}]},"mark":{"type":"text","fontSize":19,"align":"left","baseline":"middle","color":"black"},
 "encoding":{"x":{"field":"c","type":"quantitative"},"y":{"field":"v","type":"quantitative"},"text":{"field":"t"}}},
{"data":{"name":"rom"},"mark":{"type":"rect","fill":"#f2f2ff","stroke":"#3b3bef","strokeWidth":1.8},
 "encoding":{"x":{"field":"c1","type":"quantitative"},"x2":{"field":"c2"},"y":{"field":"v1","type":"quantitative"},"y2":{"field":"v2"}}},
{"data":{"name":"rom"},"mark":{"type":"text","fontSize":23,"align":"center","baseline":"middle","color":"#1e1ec8"},
 "encoding":{"x":{"field":"c","type":"quantitative"},"y":{"field":"v","type":"quantitative"},"text":{"field":"t"}}},
{"data":{"values":[{"c":147,"v":-2.867},{"c":281,"v":-2.73}]},"mark":{"type":"line","color":"#5b6cf5","strokeWidth":6},
 "encoding":{"x":{"field":"c","type":"quantitative"},"y":{"field":"v","type":"quantitative"}}},
{"data":{"values":[{"c":150,"v":-2.864},{"c":285,"v":-2.727}]},"mark":{"type":"line","color":"white","strokeWidth":3},
 "encoding":{"x":{"field":"c","type":"quantitative"},"y":{"field":"v","type":"quantitative"}}},
{"data":{"values":[{"c":328,"v":-2.70}]},"mark":{"type":"point","shape":"triangle-right","angle":-23.5,"filled":true,"fill":"white","stroke":"#5b6cf5","strokeWidth":1.5,"opacity":1,"size":300},
 "encoding":{"x":{"field":"c","type":"quantitative"},"y":{"field":"v","type":"quantitative"}}}
]
}
]
}
